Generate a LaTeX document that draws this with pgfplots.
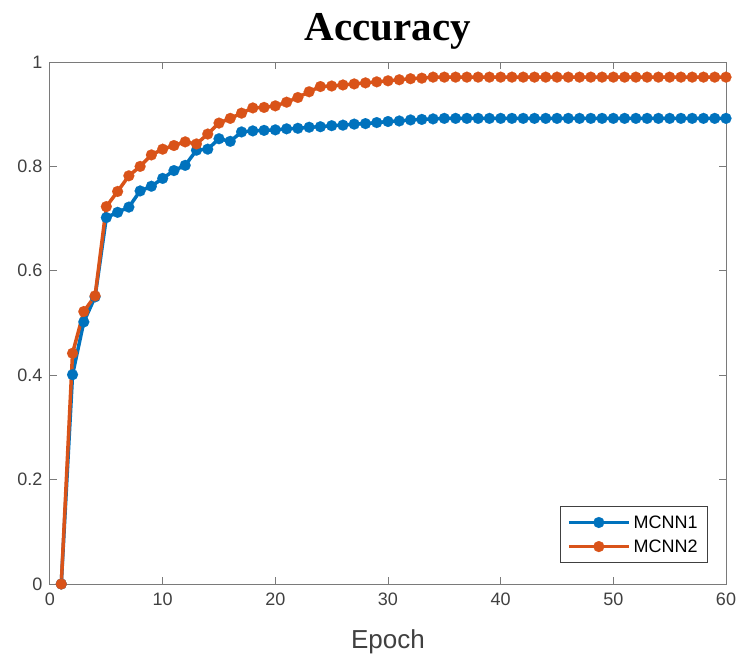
\documentclass[border=0pt]{standalone}
\usepackage{pgfplots}
\pgfplotsset{compat=1.18}
\usepackage{fontspec}
\setmainfont{Liberation Sans}
\newfontfamily\tnr{Liberation Serif}
\definecolor{mblue}{HTML}{0072BD}
\definecolor{morange}{HTML}{D95319}
\definecolor{axgray}{HTML}{7A7A7A}
\definecolor{txtgray}{HTML}{404040}

\pgfplotstableread{
x y
1 0
2 0.401
3 0.502
4 0.550
5 0.702
6 0.712
7 0.722
8 0.753
9 0.762
10 0.777
11 0.792
12 0.802
13 0.831
14 0.833
15 0.853
16 0.848
17 0.866
18 0.868
19 0.869
20 0.870
21 0.872
22 0.873
23 0.875
24 0.876
25 0.878
26 0.879
27 0.881
28 0.882
29 0.884
30 0.886
31 0.887
32 0.889
33 0.890
34 0.891
35 0.892
36 0.892
37 0.892
38 0.892
39 0.892
40 0.892
41 0.892
42 0.892
43 0.892
44 0.892
45 0.892
46 0.892
47 0.892
48 0.892
49 0.892
50 0.892
51 0.892
52 0.892
53 0.892
54 0.892
55 0.892
56 0.892
57 0.892
58 0.892
59 0.892
60 0.892
}\mcnnone

\pgfplotstableread{
x y
1 0
2 0.442
3 0.522
4 0.552
5 0.723
6 0.752
7 0.782
8 0.800
9 0.822
10 0.833
11 0.840
12 0.847
13 0.843
14 0.862
15 0.883
16 0.892
17 0.902
18 0.912
19 0.913
20 0.916
21 0.923
22 0.932
23 0.943
24 0.953
25 0.954
26 0.956
27 0.958
28 0.960
29 0.962
30 0.964
31 0.966
32 0.968
33 0.969
34 0.971
35 0.971
36 0.971
37 0.971
38 0.971
39 0.971
40 0.971
41 0.971
42 0.971
43 0.971
44 0.971
45 0.971
46 0.971
47 0.971
48 0.971
49 0.971
50 0.971
51 0.971
52 0.971
53 0.971
54 0.971
55 0.971
56 0.971
57 0.971
58 0.971
59 0.971
60 0.971
}\mcnntwo

\begin{document}
\begin{tikzpicture}
\path[use as bounding box] (-50pt,-73pt) rectangle (689pt,584pt);
\begin{axis}[
    at={(0,0)}, anchor=south west,
    scale only axis,
    width=676pt, height=522pt,
    xmin=0, xmax=60, ymin=0, ymax=1,
    xtick={0,10,...,60},
    ytick={0,0.2,...,1},
    /pgf/number format/assume math mode=true,
    yticklabel style={/pgf/number format/fixed, /pgf/number format/precision=1},
    tick align=inside, tick pos=both,
    major tick length=7pt,
    axis line style={axgray, line width=1pt},
    every tick/.style={axgray, line width=1pt},
    ticklabel style={font=\fontsize{18}{20}\selectfont, text=txtgray},
    xticklabel style={yshift=-5pt},
    yticklabel style={xshift=-4pt},
    title={\tnr\bfseries Accuracy},
    title style={at={(0.5,1)}, anchor=base, yshift=16pt, font=\fontsize{41}{46}\selectfont},
    xlabel={Epoch},
    xlabel style={at={(0.5,0)}, anchor=base, yshift=-64pt, font=\fontsize{26}{28}\selectfont, text=txtgray},
    legend style={at={(1,0)}, anchor=south east, xshift=-18pt, yshift=21pt,
        draw=txtgray, line width=0.8pt, font=\fontsize{18}{20}\selectfont,
        text=black, inner xsep=7pt, inner ysep=7pt, row sep=6pt, cells={anchor=west},
        nodes={inner xsep=3pt}},
    legend cell align=left,
    legend image code/.code={
        \draw[mark repeat=2, mark phase=2, #1] plot coordinates {(0pt,0pt) (30pt,0pt) (60pt,0pt)};
    },
]
\addplot[mblue, line width=3.5pt, mark=*, mark size=5.5pt, mark options={line width=0.1pt}] table[x=x,y=y] {\mcnnone};
\addlegendentry{MCNN1}
\addplot[morange, line width=3.5pt, mark=*, mark size=5.5pt, mark options={line width=0.1pt}] table[x=x,y=y] {\mcnntwo};
\addlegendentry{MCNN2}
\end{axis}
\end{tikzpicture}
\end{document}
